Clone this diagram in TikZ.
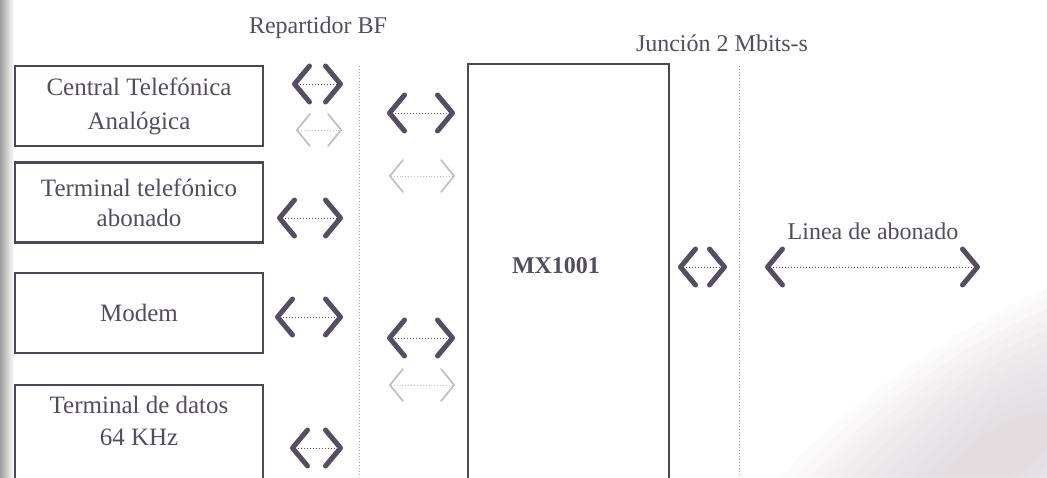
\documentclass[tikz,border=0pt]{standalone}
\usepackage{fontspec}
\setmainfont{Liberation Serif}
\usetikzlibrary{arrows.meta}
\definecolor{textc}{HTML}{544C60}
\definecolor{boxc}{HTML}{4D4658}
\definecolor{arrc}{HTML}{554E62}
\definecolor{faintc}{HTML}{C4C0C8}
\definecolor{vlinec}{HTML}{A8A4AE}
\definecolor{shadec}{HTML}{D6CCD2}
\tikzset{
  box/.style={draw=boxc, line width=2.5pt, minimum width=248pt, text=textc, align=center,
    font=\fontsize{25}{30}\selectfont, inner sep=0pt},
  lbl/.style={text=textc, font=\fontsize{24}{28}\selectfont, inner sep=0pt},
  vline/.style={draw=vlinec, line width=1pt, dotted},
  dk/.style={draw=arrc, line width=1pt, dotted,
    {Straight Barb[length=15pt,width=36pt,line width=5pt,round]}-{Straight Barb[length=15pt,width=36pt,line width=5pt,round]}},
  ft/.style={draw=faintc, line width=0.9pt, dotted,
    {Straight Barb[length=13pt,width=32pt,line width=1.8pt,round]}-{Straight Barb[length=13pt,width=32pt,line width=1.8pt,round]}}
}
\begin{document}
\begin{tikzpicture}[x=1pt,y=-1pt]
\useasboundingbox (0,0) rectangle (1047,477);
\clip (0,0) rectangle (1047,477);
\fill[white] (0,0) rectangle (1047,477);
% photo shading (soft blob, bottom right)
\foreach \i in {0,...,11} {
  \fill[shadec, opacity=0.07, shift={(1000,455)}, rotate=33]
    (0,0) ellipse [x radius={330-24*\i}, y radius={125-9*\i}];
}
\shade[left color=gray!75, right color=white] (0,0) rectangle (14,477);
% labels
\node[lbl] (rep) at (318,28) {Repartidor BF};
\node[lbl] (junc) at (722,43) {Junción 2 Mbits-s};
\node[lbl] (linea) at (873,231) {Linea de abonado};
% boxes
\node[box, minimum height=80pt] (b1) at (139,106) {Central Telefónica\\[4pt]Analógica};
\node[box, minimum height=80pt] (b2) at (139,202.5) {Terminal telefónico\\abonado};
\node[box, minimum height=80pt] (b3) at (139,313) {Modem};
\node[box, minimum height=110pt] (b4) at (139,440) {};
\node[text=textc, align=center, font=\fontsize{25}{30}\selectfont, inner sep=0pt] (t4) at (139,421) {Terminal de datos\\[2pt]64 KHz};
\node[draw=boxc, line width=2.5pt, minimum width=201pt, minimum height=436pt, inner sep=0pt] (mx) at (568.5,282) {};
\node[text=textc, font=\fontsize{24}{28}\selectfont\bfseries, inner sep=0pt] (mxt) at (556,266) {MX1001};
% vertical dotted lines
\coordinate (v1t) at (359,66); \coordinate (v1b) at (359,477);
\coordinate (v2t) at (739,66); \coordinate (v2b) at (739,477);
\draw[vline] (v1t) -- (v1b);
\draw[vline] (v2t) -- (v2b);
% arrows left of Repartidor
\coordinate (a1l) at (292,84);  \coordinate (a1r) at (343,84);
\coordinate (f1l) at (296,130); \coordinate (f1r) at (342,130);
\coordinate (a2l) at (277,218); \coordinate (a2r) at (343,218);
\coordinate (a3l) at (275,317); \coordinate (a3r) at (343,317);
\coordinate (a4l) at (290,448); \coordinate (a4r) at (343,448);
\draw[dk] (a1l) -- (a1r);
\draw[ft] (f1l) -- (f1r);
\draw[dk] (a2l) -- (a2r);
\draw[dk] (a3l) -- (a3r);
\draw[dk] (a4l) -- (a4r);
% arrows right of Repartidor
\coordinate (b1l) at (387,113); \coordinate (b1r) at (455,113);
\coordinate (g1l) at (389,176); \coordinate (g1r) at (455,176);
\coordinate (b2l) at (387,338); \coordinate (b2r) at (455,338);
\coordinate (g2l) at (389,385); \coordinate (g2r) at (455,385);
\draw[dk] (b1l) -- (b1r);
\draw[ft] (g1l) -- (g1r);
\draw[dk] (b2l) -- (b2r);
\draw[ft] (g2l) -- (g2r);
% arrows on the right
\coordinate (cl) at (678,267); \coordinate (cr) at (727,267);
\coordinate (dl) at (765,267); \coordinate (dr) at (980,267);
\draw[dk] (cl) -- (cr);
\draw[dk] (dl) -- (dr);
\end{tikzpicture}
\end{document}
